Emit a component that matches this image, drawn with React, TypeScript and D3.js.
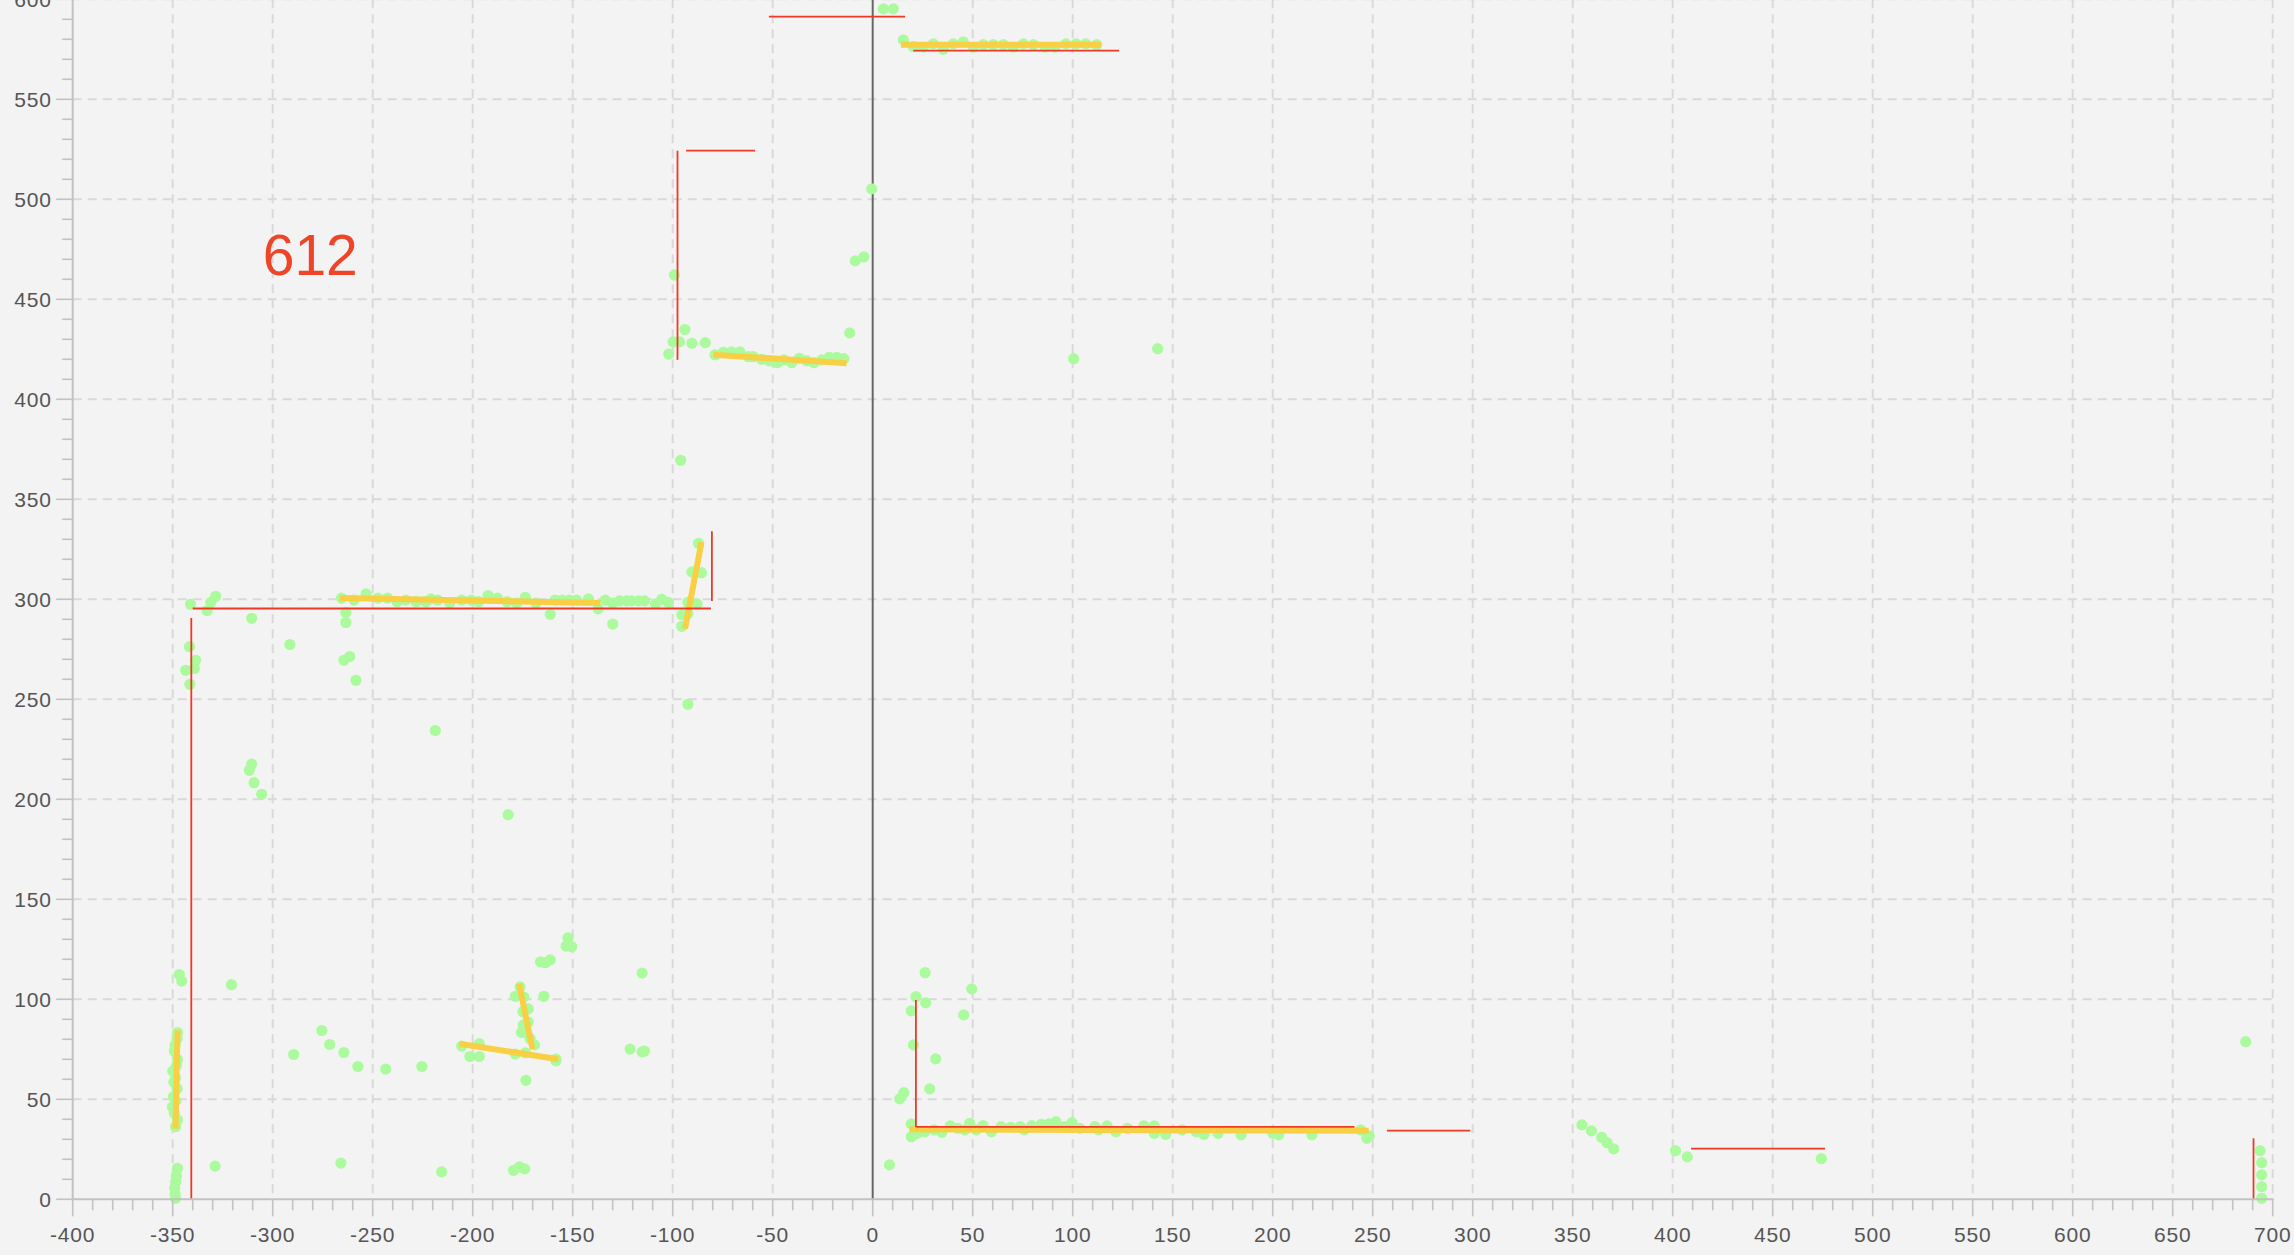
import React from "react";
import * as d3 from "d3";

// ---------- data (x, y) ----------
const leftColumn: [number, number][] = [
  [-348.6, 0.5], [-348.8, 2.5], [-349.0, 5.5], [-348.5, 8.5], [-348.2, 11.5], [-347.6, 15.5],
  [-348.6, 36.3], [-347.6, 39.8], [-349.2, 43.0], [-350.2, 46.1], [-348.4, 49.2], [-349.6, 51.3],
  [-347.8, 55.4], [-349.4, 58.5], [-348.6, 60.6], [-350.0, 64.1], [-348.2, 66.8], [-347.6, 69.9],
  [-349.2, 74.1], [-348.8, 77.2], [-347.8, 80.3], [-347.6, 83.4],
  [-346.7, 112.4], [-345.5, 109.1],
  [-341.6, 276.3], [-338.5, 269.5], [-343.5, 264.5], [-339.2, 265.4], [-341.4, 257.5],
  [-341.1, 297.5], [-332.8, 294.4], [-330.9, 298.5], [-328.5, 301.5],
];

const scatterLeft: [number, number][] = [
  [-328.8, 16.6], [-265.9, 18.1], [-215.5, 13.7], [-179.6, 14.5], [-176.6, 16.2], [-174.0, 15.2],
  [-320.6, 107.3], [-310.5, 290.5], [-291.4, 277.4], [-263.4, 293.4], [-263.4, 288.4],
  [-264.4, 269.5], [-261.5, 271.4], [-258.4, 259.5], [-218.7, 234.4],
  [-310.5, 217.6], [-311.7, 214.5], [-309.3, 208.3], [-305.5, 202.5], [-182.3, 192.3],
];

const lowerCluster: [number, number][] = [
  [-289.5, 72.4], [-275.4, 84.4], [-271.5, 77.4], [-264.4, 73.4], [-257.4, 66.4], [-243.5, 65.1],
  [-225.4, 66.4], [-205.5, 76.6], [-201.4, 71.4], [-196.7, 77.8], [-196.7, 71.4], [-178.7, 72.6],
  [-173.7, 73.2], [-173.4, 59.5], [-158.4, 70.1], [-158.4, 69.2],
  [-176.3, 106.2], [-178.7, 101.5], [-174.4, 101.1], [-174.9, 93.8], [-172.2, 95.2], [-174.7, 87.1],
  [-172.2, 88.6], [-175.6, 83.4], [-171.3, 80.3], [-169.1, 77.2], [-164.4, 101.5],
  [-166.1, 118.7], [-163.7, 118.3], [-161.2, 119.7], [-152.4, 130.7], [-153.3, 126.6], [-150.5, 126.3],
  [-121.3, 75.1], [-115.3, 73.7], [-114.1, 74.1], [-115.3, 113.1],
];

const row300: [number, number][] = [
  [-265.6, 300.6], [-259.3, 299.6], [-253.3, 302.7], [-247.4, 300.6], [-242.6, 300.6], [-237.8, 298.8],
  [-233.5, 299.6], [-228.2, 298.8], [-223.4, 298.8], [-220.9, 300.2], [-217.5, 299.6], [-211.5, 298.1],
  [-205.5, 299.6], [-200.7, 299.6], [-197.1, 298.8], [-192.3, 301.9], [-187.6, 300.6], [-182.8, 298.8],
  [-178.0, 298.1], [-173.7, 301.0], [-168.4, 298.1], [-161.2, 292.5], [-158.9, 299.6], [-155.3, 299.6],
  [-151.7, 299.6], [-148.1, 299.6], [-142.1, 300.2], [-137.3, 295.2], [-133.7, 299.6], [-130.0, 287.6],
  [-130.0, 298.1], [-126.6, 299.2], [-123.0, 299.2], [-120.6, 299.2], [-117.0, 299.2], [-114.1, 299.2],
  [-108.6, 297.7], [-105.5, 300.0], [-102.2, 298.5],
  [-95.5, 286.5], [-95.5, 292.3], [-92.4, 292.9], [-92.4, 298.5], [-87.8, 297.7], [-90.4, 313.7],
  [-85.6, 313.3], [-87.1, 328.0], [-92.4, 247.5], [-96.0, 369.5],
];

const row420: [number, number][] = [
  [-99.1, 462.1], [-102.0, 422.6], [-99.8, 428.7], [-96.6, 428.7], [-93.9, 434.9], [-90.4, 428.0],
  [-83.7, 428.3], [-78.9, 422.2], [-74.7, 423.5], [-70.5, 423.7], [-66.4, 423.7], [-62.2, 421.3],
  [-59.7, 421.3], [-55.5, 420.0], [-51.7, 419.2], [-47.7, 418.3], [-44.4, 419.7], [-40.5, 418.3],
  [-36.7, 420.5], [-33.0, 419.3], [-29.4, 418.3], [-25.5, 419.7], [-21.7, 421.0], [-18.0, 421.0],
  [-14.4, 420.3], [-11.5, 433.2], [-8.7, 469.2], [-4.4, 471.2], [-0.5, 505.2],
  [100.5, 420.3], [142.5, 425.3],
];

const row577: [number, number][] = [
  [5.3, 595.2], [10.3, 595.2],
  [15.3, 579.7], [20.3, 576.3], [25.3, 576.0], [30.3, 577.7], [35.3, 575.0], [40.3, 577.7],
  [45.3, 578.7], [50.3, 576.0], [55.3, 577.3], [60.3, 577.3], [65.3, 577.3], [70.3, 576.0],
  [75.3, 577.7], [80.3, 577.3], [86.2, 576.0], [91.2, 576.0], [96.6, 577.7], [101.7, 577.7],
  [106.5, 577.7], [112.0, 577.3],
];

const row35: [number, number][] = [
  [8.4, 17.2], [13.5, 50.2], [15.6, 53.3], [19.3, 94.2], [21.6, 101.3], [26.2, 113.3], [26.5, 98.2],
  [20.4, 77.2], [31.5, 70.2], [28.5, 55.2], [45.5, 92.2], [49.5, 105.2],
  [19.3, 37.7], [19.3, 31.3], [22.1, 33.0], [26.0, 33.8], [30.7, 34.7], [34.6, 33.5], [38.8, 36.7],
  [42.6, 35.5], [46.0, 34.7], [48.5, 38.0], [51.8, 34.7], [55.2, 36.8], [59.4, 33.8], [64.2, 36.3],
  [69.0, 36.0], [73.8, 36.3], [75.7, 34.7], [79.5, 36.8], [84.3, 37.5], [88.1, 37.7], [91.6, 38.8],
  [95.8, 36.3], [99.6, 38.3], [103.5, 35.5], [111.1, 36.3], [113.0, 34.7], [117.2, 36.7], [121.6, 33.8],
  [127.4, 35.5], [135.6, 36.7], [140.8, 36.7], [140.8, 33.0], [146.5, 32.5], [154.7, 34.7],
  [161.8, 33.8], [165.7, 32.5], [172.7, 33.0], [184.2, 32.2], [200.1, 33.0], [203.0, 32.2],
  [219.6, 32.2], [244.0, 34.7], [247.0, 30.5], [248.3, 31.7],
];

const rightScatter: [number, number][] = [
  [354.6, 37.2], [359.4, 34.2], [364.5, 31.0], [367.2, 28.3], [370.5, 25.2],
  [401.4, 24.3], [407.3, 21.2], [474.3, 20.3], [686.5, 78.8],
  [693.7, 24.3], [694.5, 18.3], [694.5, 12.2], [694.5, 6.3], [694.5, 0.5],
];

// fitted segments (yellow): x1, y1, x2, y2
const fitSegments: [number, number, number, number][] = [
  [-347.6, 84.4, -348.6, 35.3],
  [-206.7, 77.8, -157.2, 70.0],
  [-176.8, 107.7, -170.1, 75.1],
  [-266.5, 300.6, -136.1, 298.1],
  [-93.8, 285.3, -85.6, 328.6],
  [-79.7, 422.3, -13.0, 418.0],
  [14.2, 577.3, 114.2, 577.3],
  [18.3, 35.0, 248.0, 34.3],
];

// wall segments (red): x1, y1, x2, y2
const wallSegments: [number, number, number, number][] = [
  [-340.7, 290.7, -340.7, 0],
  [-340.0, 295.4, -80.9, 295.4],
  [-80.4, 334.0, -80.4, 299.2],
  [-97.6, 524.3, -97.6, 419.7],
  [-93.3, 524.3, -58.8, 524.3],
  [-51.9, 591.3, 16.2, 591.3],
  [20.3, 574.3, 123.2, 574.3],
  [21.6, 99.7, 21.6, 36.2],
  [21.6, 36.2, 240.9, 36.2],
  [257.1, 34.3, 298.8, 34.3],
  [409.2, 25.3, 476.2, 25.3],
  [690.4, 30.5, 690.4, 0],
];

const xMajorTicks = d3.range(-400, 701, 50);
const xMinorTicks = d3.range(-400, 701, 10).filter((v) => v % 50 !== 0);
const yMajorTicks = d3.range(0, 601, 50);
const yMinorTicks = d3.range(0, 601, 10).filter((v) => v % 50 !== 0);

const label = { text: "612", x: -305, y: 462 };

const W = 2294;
const H = 1255;

export default function App() {
  const x = d3.scaleLinear().domain([-400, 700]).range([72.7, 2272.7]);
  const y = d3.scaleLinear().domain([0, 600]).range([1199.3, -0.7]);
  const allPoints = [
    ...leftColumn, ...scatterLeft, ...lowerCluster, ...row300, ...row420,
    ...row577, ...row35, ...rightScatter,
  ];
  const font = "'Liberation Sans', Arial, Helvetica, sans-serif";
  const axisColor = "#c2c2c2";
  return (
    <svg
      width={W}
      height={H}
      style={{ position: "absolute", left: 0, top: 0, display: "block" }}
    >
      <rect x={0} y={0} width={W} height={H} fill="#f3f3f3" />
      {/* grid */}
      <g stroke="#d9d9d9" strokeWidth={2} strokeDasharray="9,6">
        {xMajorTicks.filter((v) => v !== -400 && v !== 0).map((v) => (
          <line key={"gx" + v} x1={x(v)} x2={x(v)} y1={y(600)} y2={y(0)} />
        ))}
        {yMajorTicks.filter((v) => v !== 0).map((v) => (
          <line key={"gy" + v} x1={x(-400)} x2={x(700)} y1={y(v)} y2={y(v)} />
        ))}
      </g>
      {/* zero line */}
      <line x1={x(0)} x2={x(0)} y1={y(600)} y2={y(0)} stroke="#666" strokeWidth={2} />
      {/* points */}
      <g fill="#abfa9d">
        {allPoints.map((p, i) => (
          <circle key={"p" + i} cx={x(p[0])} cy={y(p[1])} r={5.6} />
        ))}
      </g>
      {/* fitted segments */}
      <g stroke="#f8d046" strokeWidth={6}>
        {fitSegments.map((s, i) => (
          <line key={"f" + i} x1={x(s[0])} y1={y(s[1])} x2={x(s[2])} y2={y(s[3])} />
        ))}
      </g>
      {/* walls */}
      <g stroke="#ee3a24" strokeWidth={1.8}>
        {wallSegments.map((s, i) => (
          <line key={"w" + i} x1={x(s[0])} y1={y(s[1])} x2={x(s[2])} y2={y(s[3])} />
        ))}
      </g>
      {/* axes */}
      <g stroke={axisColor}>
        <line x1={x(-400)} x2={x(-400)} y1={y(600)} y2={y(0) + 1} strokeWidth={2} />
        <line x1={x(-400) - 1} x2={x(700) + 1} y1={y(0)} y2={y(0)} strokeWidth={2} />
        {yMajorTicks.map((v) => (
          <line key={"ymt" + v} x1={x(-400) - 16.5} x2={x(-400)} y1={y(v)} y2={y(v)} strokeWidth={1.6} />
        ))}
        {yMinorTicks.map((v) => (
          <line key={"ymi" + v} x1={x(-400) - 10.5} x2={x(-400)} y1={y(v)} y2={y(v)} strokeWidth={1.6} />
        ))}
        {xMajorTicks.map((v) => (
          <line key={"xmt" + v} x1={x(v)} x2={x(v)} y1={y(0)} y2={y(0) + 17} strokeWidth={1.6} />
        ))}
        {xMinorTicks.map((v) => (
          <line key={"xmi" + v} x1={x(v)} x2={x(v)} y1={y(0)} y2={y(0) + 11} strokeWidth={1.6} />
        ))}
      </g>
      <g fill="#555" fontFamily={font} fontSize={21} letterSpacing={0.8}>
        {xMajorTicks.map((v) => (
          <text key={"xl" + v} x={x(v)} y={y(0) + 42.4} textAnchor="middle">
            {v}
          </text>
        ))}
        {yMajorTicks.map((v) => (
          <text key={"yl" + v} x={x(-400) - 21} y={y(v)} textAnchor="end" dominantBaseline="central">
            {v}
          </text>
        ))}
      </g>
      <text x={x(label.x)} y={y(label.y)} fill="#ee4427" fontFamily={font} fontSize={57}>
        {label.text}
      </text>
    </svg>
  );
}
